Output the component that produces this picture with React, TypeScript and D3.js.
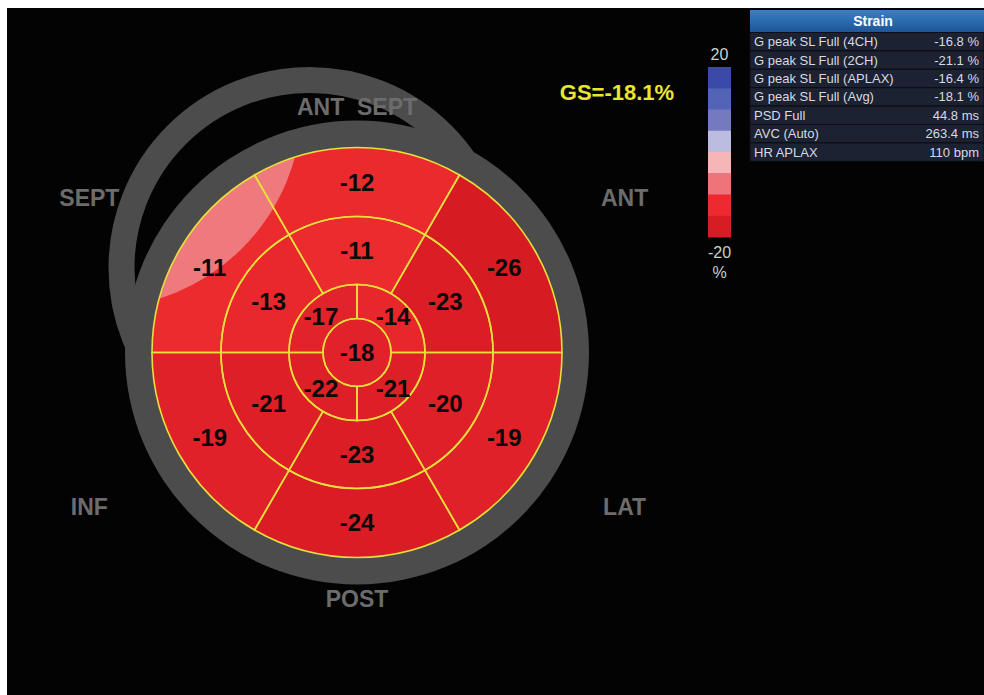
import React from "react";
import * as d3 from "d3";

// ---- data ----
const basalValues = [-12, -26, -19, -24, -19, -11]; // clockwise from top
const midValues = [-11, -23, -20, -23, -21, -13];
const apicalValues = [-14, -21, -22, -17]; // clockwise from top-right
const apexValue = -18;
const wallLabels = ["ANT  SEPT", "ANT", "LAT", "POST", "INF", "SEPT"]; // every 60deg clockwise from top
const globalStrain = "GS=-18.1%";
const colorbarColors = ["#3b4aa6", "#5363b6", "#7579bf", "#bcbce0", "#f6b5b7", "#ef7479", "#ee2a30", "#d81c24"];
const colorbarTicks = ["20", "-20"];
const colorbarUnit = "%";
const tableTitle = "Strain";
const tableLabels = [
  "G peak SL Full (4CH)",
  "G peak SL Full (2CH)",
  "G peak SL Full (APLAX)",
  "G peak SL Full (Avg)",
  "PSD Full",
  "AVC (Auto)",
  "HR APLAX",
];
const tableValues = ["-16.8 %", "-21.1 %", "-16.4 %", "-18.1 %", "44.8 ms", "263.4 ms", "110 bpm"];

const FONT = "'Liberation Sans', Arial, Helvetica, sans-serif";

export default function App() {
  const W = 984, H = 695;
  const cx = 357, cy = 352.5;
  const rApex = 34, rApical = 68, rMid = 136, rBasal = 205;
  const deg = Math.PI / 180;

  const fill = d3.scaleLinear<string>().domain([-11, -18, -26]).range(["#ec2b2f", "#e2222a", "#d71b23"]).clamp(true);
  const arc = d3.arc<any>();

  type Seg = { v: number; r0: number; r1: number; a0: number; a1: number; lr: number };
  const segs: Seg[] = [];
  basalValues.forEach((v, i) => segs.push({ v, r0: rMid, r1: rBasal, a0: (-30 + 60 * i) * deg, a1: (30 + 60 * i) * deg, lr: 170 }));
  midValues.forEach((v, i) => segs.push({ v, r0: rApical, r1: rMid, a0: (-30 + 60 * i) * deg, a1: (30 + 60 * i) * deg, lr: 102 }));
  apicalValues.forEach((v, i) => segs.push({ v, r0: rApex, r1: rApical, a0: (90 * i) * deg, a1: (90 * (i + 1)) * deg, lr: 51 }));

  const labelPos = (s: Seg) => {
    const a = (s.a0 + s.a1) / 2;
    return [cx + s.lr * Math.sin(a), cy - s.lr * Math.cos(a)];
  };

  const wallPos = (i: number) => {
    const a = i * 60 * deg;
    const r = i % 3 === 0 ? 246 : 309;
    return [cx + r * Math.sin(a), cy - r * Math.cos(a)];
  };

  const cbX = 708, cbW = 23, cbTop = 67, cbBot = 237;
  const cbY = d3.scaleBand<number>().domain(colorbarColors.map((_, i) => i)).range([cbTop, cbBot]);

  const tX = 750, tTop = 10, headH = 22.5, rowH = 18.4;
  const rowY = d3.scaleBand<number>().domain(tableLabels.map((_, i) => i)).range([tTop + headH, tTop + headH + rowH * tableLabels.length]);

  return (
    <svg width={W} height={H} style={{ position: "absolute", left: 0, top: 0 }} fontFamily={FONT}>
      <defs>
        <linearGradient id="hdr" x1="0" y1="0" x2="0" y2="1">
          <stop offset="0" stopColor="#3b7fc6" />
          <stop offset="1" stopColor="#1d5596" />
        </linearGradient>
        <clipPath id="basalClip">
          <path d={arc({ innerRadius: rMid, outerRadius: rBasal, startAngle: 0, endAngle: 2 * Math.PI }) as string} transform={`translate(${cx},${cy})`} />
        </clipPath>
      </defs>
      <rect x={0} y={0} width={W} height={H} fill="#ffffff" />
      <rect x={7} y={8} width={W - 7} height={H - 8} fill="#030303" />

      {/* grey rings */}
      <circle cx={309.5} cy={268} r={188} fill="none" stroke="#4c4c4c" strokeWidth={26} />
      <circle cx={cx} cy={cy} r={232} fill="#4c4c4c" />

      {/* wall labels */}
      {wallLabels.map((t, i) => {
        const [x, y] = wallPos(i);
        return (
          <text key={t} x={x} y={y} textAnchor="middle" dominantBaseline="central" fontSize={23} fontWeight="bold" fill="#6c6c6c" style={{ whiteSpace: "pre" }}>
            {t}
          </text>
        );
      })}

      {/* bullseye */}
      <g transform={`translate(${cx},${cy})`}>
        {segs.map((s, i) => (
          <path key={i} d={arc({ innerRadius: s.r0, outerRadius: s.r1, startAngle: s.a0, endAngle: s.a1 }) as string} fill={fill(s.v)} />
        ))}
        <circle r={rApex} fill={fill(apexValue)} />
      </g>
      {/* low-strain highlight of the septal basal region */}
      <g clipPath="url(#basalClip)">
        <circle cx={98} cy={104} r={204} fill="#ee7a7d" />
      </g>
      <g transform={`translate(${cx},${cy})`} fill="none" stroke="#e8df3a" strokeWidth={1.6}>
        {segs.map((s, i) => (
          <path key={i} d={arc({ innerRadius: s.r0, outerRadius: s.r1, startAngle: s.a0, endAngle: s.a1 }) as string} />
        ))}
        <circle r={rApex} />
      </g>
      {segs.map((s, i) => {
        const [x, y] = labelPos(s);
        return (
          <text key={i} x={x} y={y} textAnchor="middle" dominantBaseline="central" fontSize={24} fontWeight="bold" fill="#0a0a0a">
            {s.v}
          </text>
        );
      })}
      <text x={cx} y={cy} textAnchor="middle" dominantBaseline="central" fontSize={24} fontWeight="bold" fill="#0a0a0a">
        {apexValue}
      </text>

      {/* GS */}
      <text x={617} y={92} textAnchor="middle" dominantBaseline="central" fontSize={22} fontWeight="bold" fill="#e8e630">
        {globalStrain}
      </text>

      {/* colorbar */}
      {colorbarColors.map((c, i) => (
        <rect key={i} x={cbX} y={cbY(i)} width={cbW} height={cbY.bandwidth() + 0.5} fill={c} />
      ))}
      <text x={cbX + cbW / 2} y={60} textAnchor="middle" fontSize={16} fill="#c4d4cc">{colorbarTicks[0]}</text>
      <text x={cbX + cbW / 2} y={258} textAnchor="middle" fontSize={16} fill="#c4d4cc">{colorbarTicks[1]}</text>
      <text x={cbX + cbW / 2} y={278} textAnchor="middle" fontSize={16} fill="#c4d4cc">{colorbarUnit}</text>

      {/* table */}
      <rect x={tX} y={tTop} width={W - tX} height={headH} fill="url(#hdr)" />
      <text x={873} y={tTop + headH / 2} textAnchor="middle" dominantBaseline="central" fontSize={14} fontWeight="bold" fill="#ffffff">
        {tableTitle}
      </text>
      {tableLabels.map((l, i) => (
        <g key={l}>
          <rect x={tX} y={rowY(i)} width={W - tX} height={rowY.bandwidth()} fill="#1c2232" stroke="#0b0e16" strokeWidth={1} />
          <text x={754} y={(rowY(i) as number) + rowY.bandwidth() / 2} dominantBaseline="central" fontSize={13} fill="#d6dae2">
            {l}
          </text>
          <text x={979} y={(rowY(i) as number) + rowY.bandwidth() / 2} dominantBaseline="central" textAnchor="end" fontSize={13} fill="#d6dae2">
            {tableValues[i]}
          </text>
        </g>
      ))}
    </svg>
  );
}
